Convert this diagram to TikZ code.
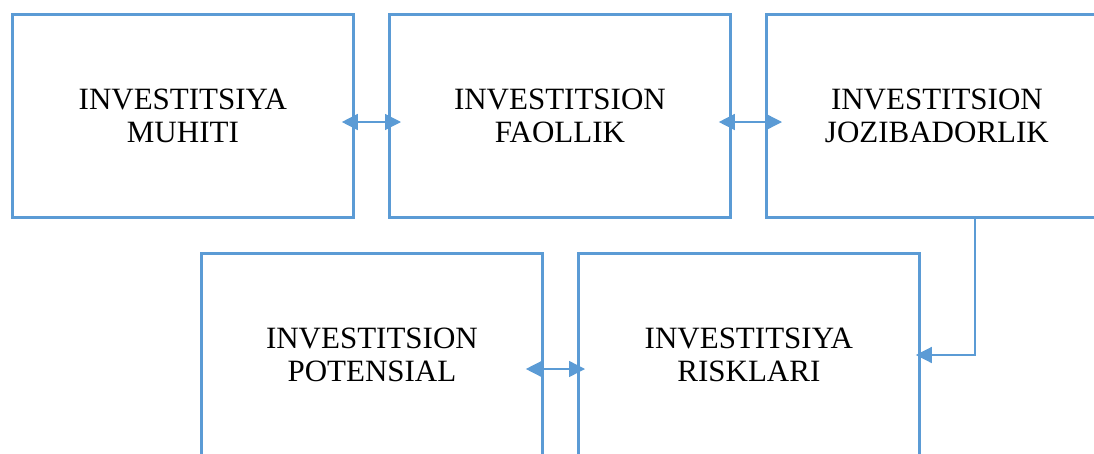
\documentclass[tikz,border=0pt]{standalone}
\usepackage{fontspec}
\setmainfont{Liberation Serif}
\usetikzlibrary{arrows.meta,calc}
\definecolor{boxblue}{HTML}{5B9BD5}
\begin{document}
\begin{tikzpicture}[x=1pt,y=-1pt,
  box/.style={draw=boxblue,line width=2.8pt,rectangle,minimum width=341pt,minimum height=203pt,
    inner sep=0pt,anchor=north west,align=center,font=\fontsize{31}{33}\selectfont},
  tip/.style={Triangle[length=16pt,width=16pt]},
  conn/.style={draw=boxblue,line width=1.4pt,{Triangle[length=16pt,width=16pt]}-{Triangle[length=16pt,width=16pt]}},
  conn1/.style={draw=boxblue,line width=1.4pt,-{Triangle[length=16pt,width=16pt]}}]
\useasboundingbox (0,0) rectangle (1094,453);
\clip (0,0) rectangle (1094,453);
\node[box] (b1) at (11,13) {INVESTITSIYA\\MUHITI};
\node[box] (b2) at (388,13) {INVESTITSION\\FAOLLIK};
\node[box] (b3) at (765,13) {INVESTITSION\\JOZIBADORLIK};
\node[box] (b4) at (200,252) {INVESTITSION\\POTENSIAL};
\node[box] (b5) at (577,252) {INVESTITSIYA\\RISKLARI};
\coordinate (a1) at ($(b1.north east)+(-13,109)$);
\coordinate (a2) at ($(b2.north west)+(13,109)$);
\coordinate (a3) at ($(b2.north east)+(-13,109)$);
\coordinate (a4) at ($(b3.north west)+(17,109)$);
\coordinate (a5) at ($(b4.north east)+(-18,117)$);
\coordinate (a6) at ($(b5.north west)+(8,117)$);
\coordinate (s3) at ($(b3.south west)+(210,0)$);
\coordinate (t5) at ($(b5.north east)+(-5,103)$);
\draw[conn] (a1) -- (a2);
\draw[conn] (a3) -- (a4);
\draw[conn] (a5) -- (a6);
\draw[conn1] (s3) |- (t5);
\end{tikzpicture}
\end{document}
